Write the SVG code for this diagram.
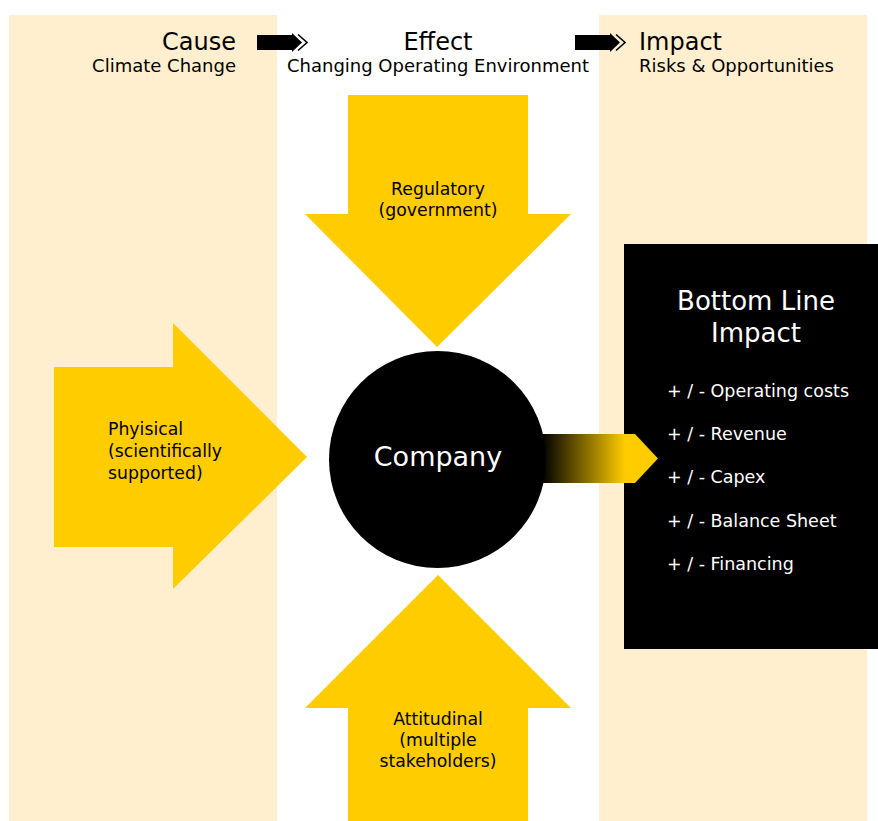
<svg xmlns="http://www.w3.org/2000/svg" width="878" height="821" viewBox="0 0 878 821">
  <style>
    text { font-family: "DejaVu Sans", "Liberation Sans", sans-serif; fill: #000; }
    .panel { fill: #FFEFCF; }
    .force { fill: #FFCC00; }
    .hd { font-size: 24px; }
    .sub { font-size: 18px; }
    .lbl { font-size: 17.3px; }
    .wt { fill: #fff; }
    .bullet { font-size: 17.5px; fill: #fff; }
    .mid { text-anchor: middle; }
    .end { text-anchor: end; }
  </style>
  <defs>
    <linearGradient id="fade" gradientUnits="userSpaceOnUse" x1="542" y1="0" x2="625" y2="0">
      <stop offset="0" stop-color="#000"/>
      <stop offset="1" stop-color="#FFCC00"/>
    </linearGradient>
    <g id="hdArrow">
      <rect x="0" y="35" width="36" height="15" fill="#000"/>
      <polygon points="35,33 45,42.5 35,52" fill="#000"/>
      <polyline points="41,34.5 50,42.5 41,50.5" fill="none" stroke="#000" stroke-width="1.6"/>
    </g>
  </defs>

  <rect width="878" height="821" fill="#fff"/>

  <!-- column backgrounds -->
  <g id="cause-column">
    <rect class="panel" x="9" y="15" width="268" height="806"/>
    <text class="hd end" x="236" y="50">Cause</text>
    <text class="sub end" x="236" y="72">Climate Change</text>
  </g>
  <g id="effect-column">
    <text class="hd mid" x="438" y="50">Effect</text>
    <text class="sub mid" x="438" y="72">Changing Operating Environment</text>
  </g>
  <g id="impact-column">
    <rect class="panel" x="599" y="15" width="268" height="806"/>
    <text class="hd" x="639" y="50">Impact</text>
    <text class="sub" x="639" y="72">Risks &amp; Opportunities</text>
  </g>

  <!-- driving forces -->
  <g id="regulatory">
    <polygon class="force" points="348,95 528,95 528,214 571,214 437,347 305,214 348,214"/>
    <text class="lbl mid" x="438" y="195">Regulatory</text>
    <text class="lbl mid" x="438" y="216">(government)</text>
  </g>
  <g id="physical">
    <polygon class="force" points="54,367 173,367 173,323 307,457 173,589 173,547 54,547"/>
    <text class="lbl" x="108" y="435">Phyisical</text>
    <text class="lbl" x="108" y="457">(scientifically</text>
    <text class="lbl" x="108" y="479">supported)</text>
  </g>
  <g id="attitudinal">
    <polygon class="force" points="438,575 571,708 528,708 528,821 348,821 348,708 305,708"/>
    <text class="lbl mid" x="438" y="725">Attitudinal</text>
    <text class="lbl mid" x="438" y="746">(multiple</text>
    <text class="lbl mid" x="438" y="767">stakeholders)</text>
  </g>

  <!-- outcome box -->
  <g id="bottom-line">
    <rect x="624" y="244" width="254" height="405" fill="#000"/>
    <text class="wt mid" x="756" y="310" font-size="26">Bottom Line</text>
    <text class="wt mid" x="756" y="342" font-size="26">Impact</text>
    <text class="bullet" x="667" y="397">+ / - Operating costs</text>
    <text class="bullet" x="667" y="440">+ / - Revenue</text>
    <text class="bullet" x="667" y="483">+ / - Capex</text>
    <text class="bullet" x="667" y="527">+ / - Balance Sheet</text>
    <text class="bullet" x="667" y="570">+ / - Financing</text>
  </g>

  <!-- connectors -->
  <g id="connectors">
    <use href="#hdArrow" x="257" y="0"/>
    <use href="#hdArrow" x="575" y="0"/>
    <polygon points="520,434 635,434 658,458.5 635,483 520,483" fill="url(#fade)"/>
  </g>

  <g id="company">
    <circle cx="437.5" cy="459.5" r="108.5" fill="#000"/>
    <text class="wt mid" x="438" y="466" font-size="27">Company</text>
  </g>
</svg>
